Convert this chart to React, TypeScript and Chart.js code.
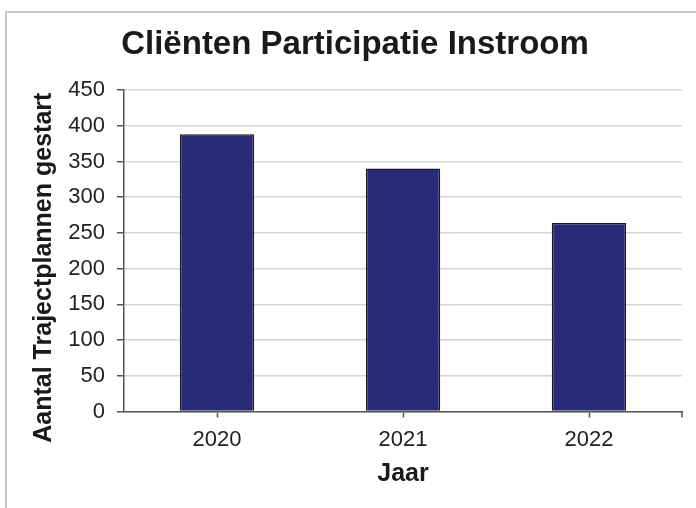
import React, { useEffect, useRef } from "react";
import { Chart, registerables } from "chart.js";

Chart.register(...registerables);

const categories = ["2020", "2021", "2022"];
const values = [388, 340, 264];
const chartTitle = "Cliënten Participatie Instroom";
const yTitle = "Aantal Trajectplannen gestart";
const xTitle = "Jaar";

const FONT = "'Liberation Sans', Arial, Helvetica, sans-serif";

const yTitlePlugin = {
  id: "yTitlePlugin",
  afterDraw(chart: any) {
    const ctx = chart.ctx;
    ctx.save();
    ctx.translate(37.3, 254.7);
    ctx.rotate(-Math.PI / 2);
    ctx.font = `bold 25px ${FONT}`;
    ctx.fillStyle = "#1a1a1a";
    ctx.textAlign = "center";
    ctx.textBaseline = "middle";
    ctx.fillText(yTitle, 0, 0);
    ctx.restore();
    // closing tick mark at the right end of the category axis
    const area = chart.chartArea;
    ctx.save();
    ctx.strokeStyle = "#555";
    ctx.lineWidth = 1.5;
    ctx.beginPath();
    ctx.moveTo(area.right, area.bottom);
    ctx.lineTo(area.right, area.bottom + 6);
    ctx.stroke();
    ctx.restore();
  },
};

export default function App() {
  const ref = useRef<HTMLCanvasElement | null>(null);
  useEffect(() => {
    if (!ref.current) return;
    const chart = new Chart(ref.current, {
      type: "bar",
      data: {
        labels: categories,
        datasets: [
          {
            data: values,
            backgroundColor: "#282a78",
            borderColor: "#1a1a1a",
            borderWidth: 1.5,
            barPercentage: 0.4,
            categoryPercentage: 1.0,
          },
        ],
      },
      options: {
        animation: false,
        responsive: false,
        devicePixelRatio: 1,
        layout: { padding: { left: 0, right: 0, top: 0, bottom: 5 } },
        plugins: {
          legend: { display: false },
          tooltip: { enabled: false },
          title: {
            display: true,
            text: chartTitle,
            color: "#1a1a1a",
            font: { family: FONT, size: 33, weight: "bold", lineHeight: 1.2 },
            padding: { top: 11.8, bottom: 25.6 },
          },
        },
        scales: {
          x: {
            grid: {
              display: true,
              drawOnChartArea: false,
              offset: false,
              tickLength: 6,
              tickColor: "#555",
              tickWidth: 1.5,
            },
            border: { display: true, color: "#555", width: 1.5 },
            ticks: {
              color: "#222",
              padding: 9,
              font: { family: FONT, size: 22, lineHeight: 1.2 },
            },
            title: {
              display: true,
              text: xTitle,
              color: "#1a1a1a",
              font: { family: FONT, size: 25, weight: "bold", lineHeight: 1.2 },
              padding: { top: 0, bottom: 13.7 },
            },
            afterFit: (s: any) => {
              s.height = 91.5;
            },
          },
          y: {
            min: 0,
            max: 450,
            grid: {
              color: "#d6d6d6",
              lineWidth: 1.5,
              tickLength: 7,
              tickColor: "#555",
              tickWidth: 1.5,
            },
            border: { display: true, color: "#555", width: 1.5 },
            ticks: {
              stepSize: 50,
              color: "#222",
              padding: 12,
              font: { family: FONT, size: 22, lineHeight: 1.2 },
            },
            afterFit: (s: any) => {
              s.width = 117;
            },
          },
          y2: {
            position: "right",
            display: true,
            grid: { display: false, drawTicks: false },
            border: { display: false },
            ticks: { display: false },
            afterFit: (s: any) => {
              s.width = 21;
            },
          },
        },
      },
      plugins: [yTitlePlugin],
    } as any);
    return () => chart.destroy();
  }, []);

  return (
    <div
      style={{
        position: "fixed",
        left: 0,
        top: 0,
        width: 696,
        height: 508,
        overflow: "hidden",
        background: "#fff",
      }}
    >
      <div
        style={{
          position: "absolute",
          left: 5,
          top: 11,
          width: 720,
          height: 520,
          borderLeft: "2px solid #c8c8c8",
          borderTop: "2px solid #c8c8c8",
        }}
      >
        <canvas
          ref={ref}
          width={696}
          height={495}
          style={{ display: "block", width: 696, height: 495 }}
        />
      </div>
    </div>
  );
}
